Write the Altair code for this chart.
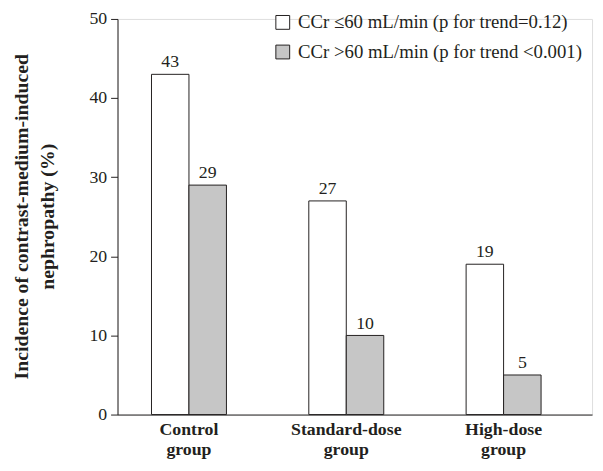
import altair as alt
import pandas as pd

groups = ["Control group", "Standard-dose group", "High-dose group"]
series = ["CCr \u226460 mL/min (p for trend=0.12)", "CCr >60 mL/min (p for trend <0.001)"]
low_ccr = [43, 27, 19]
high_ccr = [29, 10, 5]

rows = []
for g, a, b in zip(groups, low_ccr, high_ccr):
    rows.append({"group": g, "series": series[0], "value": a})
    rows.append({"group": g, "series": series[1], "value": b})
df = pd.DataFrame(rows)

FONT = "Liberation Serif, Times New Roman, serif"
INK = "#231f20"

x_enc = alt.X(
    "group:N",
    sort=groups,
    scale=alt.Scale(paddingInner=0.5235, paddingOuter=0.27, align=0.4),
    axis=alt.Axis(
        title=None,
        labelExpr="split(datum.label, ' ')",
        labelAngle=0,
        labelFont=FONT,
        labelFontSize=18,
        labelFontWeight="bold",
        labelColor=INK,
        labelLineHeight=21,
        labelPadding=6,
        labelBaseline="top",
        ticks=False,
        domainColor=INK,
        domainWidth=1,
    ),
)
xoff = alt.XOffset("series:N", sort=series, scale=alt.Scale(paddingInner=0, paddingOuter=0))
y_enc = alt.Y(
    "value:Q",
    scale=alt.Scale(domain=[0, 50], nice=False),
    axis=alt.Axis(
        values=[0, 10, 20, 30, 40, 50],
        title=["Incidence of contrast-medium-induced", "nephropathy (%)"],
        titleFont=FONT,
        titleFontSize=20,
        titleFontWeight="bold",
        titleColor=INK,
        titleAngle=270,
        titleX=-107,
        titleY=200,
        titleAlign="center",
        titleBaseline="top",
        titleLineHeight=26,
        labelFont=FONT,
        labelFontSize=18,
        labelColor=INK,
        labelPadding=4,
        tickSize=7,
        tickColor=INK,
        domainColor=INK,
        grid=False,
    ),
)

bars = alt.Chart(df).mark_bar(stroke=INK, strokeWidth=1).encode(
    x=x_enc,
    xOffset=xoff,
    y=y_enc,
    fill=alt.Fill(
        "series:N",
        sort=series,
        scale=alt.Scale(domain=series, range=["#ffffff", "#c6c6c6"]),
        legend=alt.Legend(
            title=None,
            orient="none",
            legendX=158,
            legendY=-6,
            symbolType="square",
            symbolSize=196,
            symbolStrokeColor=INK,
            symbolStrokeWidth=1,
            labelFont=FONT,
            labelFontSize=19,
            labelColor=INK,
            labelOffset=6,
            rowPadding=10,
            labelLimit=400,
        ),
    ),
)

labels = alt.Chart(df).mark_text(
    font=FONT, fontSize=18, color=INK, baseline="alphabetic", dy=-7
).encode(
    x=alt.X("group:N", sort=groups),
    xOffset=xoff,
    y="value:Q",
    text="value:Q",
)

chart = (
    alt.layer(bars, labels)
    .properties(
        width=481,
        height=401,
        autosize=alt.AutoSizeParams(type="none"),
        padding={"left": 111, "top": 8, "right": 3, "bottom": 46},
    )
    .configure_view(stroke=None)
    .configure(background="white")
)

chart.save("out.html", embed_options={"renderer": "svg", "actions": False})
